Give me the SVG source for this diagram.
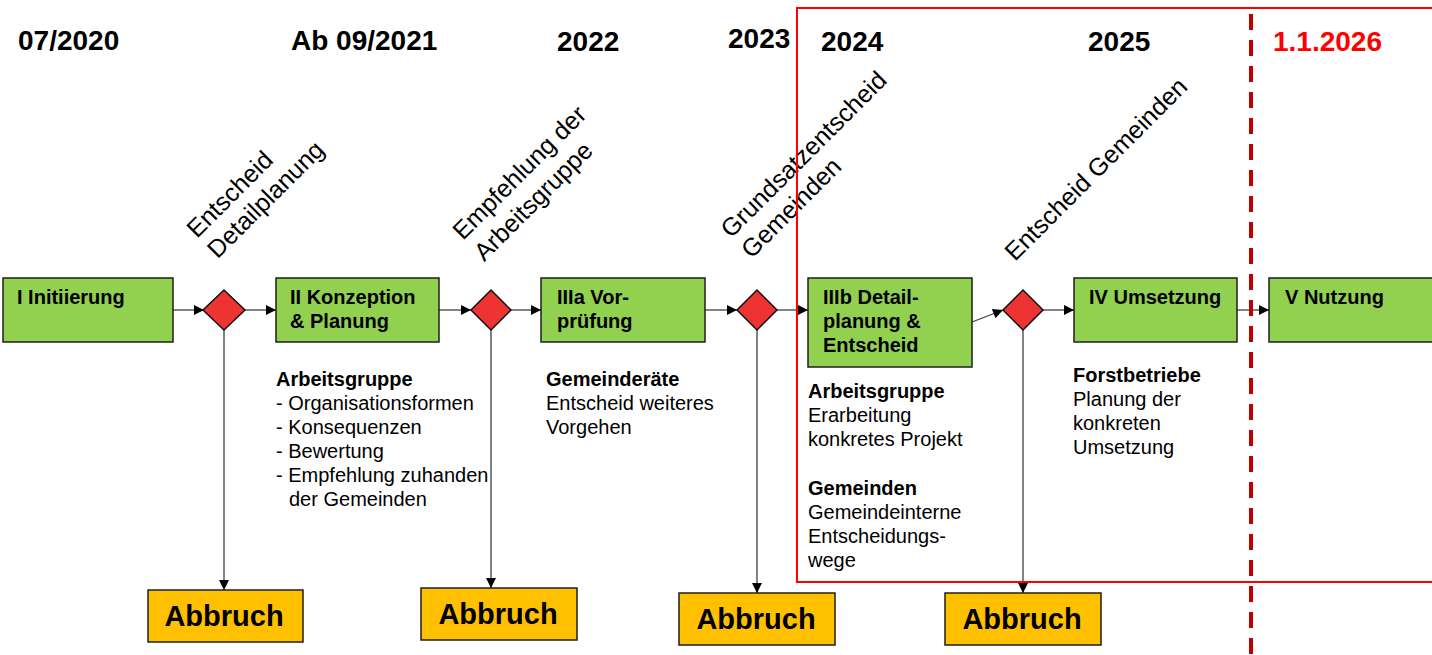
<svg xmlns="http://www.w3.org/2000/svg" width="1432" height="655" viewBox="0 0 1432 655">
<style>
.yr{font-family:"Liberation Sans",Arial,sans-serif;font-weight:bold;font-size:28px;fill:#000}
.nd{fill:#92D050;stroke:#1e1e1e;stroke-width:1.5}
.nt{font-family:"Liberation Sans",Arial,sans-serif;font-weight:bold;font-size:20px;fill:#000}
.dm{fill:#EE3333;stroke:#111;stroke-width:1.5}
.ab{fill:#FFC000;stroke:#1e1e1e;stroke-width:1.5}
.at{font-family:"Liberation Sans",Arial,sans-serif;font-weight:bold;font-size:29px;fill:#000;text-anchor:middle}
.bt{font-family:"Liberation Sans",Arial,sans-serif;font-size:20px;fill:#000}
.bb{font-weight:bold}
.rt{font-family:"Liberation Sans",Arial,sans-serif;font-size:25px;fill:#000}
.cn{stroke:#404040;stroke-width:1.3;fill:none;marker-end:url(#ah)}
</style>
<defs>
<marker id="ah" viewBox="0 0 10 10" refX="10" refY="5" markerWidth="12" markerHeight="10" markerUnits="userSpaceOnUse" orient="auto">
<path d="M0,0 L10,5 L0,10 z" fill="#000"/>
</marker>
</defs>
<rect width="1432" height="655" fill="#fff"/>

<g id="years">
<text class="yr" x="18" y="50">07/2020</text>
<text class="yr" x="291" y="50">Ab 09/2021</text>
<text class="yr" x="557" y="51">2022</text>
<text class="yr" x="728" y="48">2023</text>
<text class="yr" x="821" y="51">2024</text>
<text class="yr" x="1088" y="51">2025</text>
<text class="yr" x="1273" y="51" style="fill:#FF0000">1.1.2026</text>
</g>

<g id="decision-labels">
<g transform="translate(197,239) rotate(-45)"><text class="rt" x="0" y="0">Entscheid</text><text class="rt" x="0" y="29">Detailplanung</text></g>
<g transform="translate(463,241) rotate(-45)"><text class="rt" x="0" y="0">Empfehlung der</text><text class="rt" x="0" y="30">Arbeitsgruppe</text></g>
<g transform="translate(731,239) rotate(-45)"><text class="rt" x="0" y="0">Grundsatzentscheid</text><text class="rt" x="0" y="29">Gemeinden</text></g>
<g transform="translate(1015,262) rotate(-45)"><text class="rt" x="0" y="0">Entscheid Gemeinden</text></g>
</g>

<g id="connectors">
<line class="cn" x1="173" y1="310" x2="204" y2="310"/>
<line class="cn" x1="245" y1="310" x2="276" y2="310"/>
<line class="cn" x1="439" y1="310" x2="471" y2="310"/>
<line class="cn" x1="511" y1="310" x2="541" y2="310"/>
<line class="cn" x1="705" y1="310" x2="737" y2="310"/>
<line class="cn" x1="777" y1="310" x2="808" y2="310"/>
<line class="cn" x1="972" y1="322" x2="1003" y2="310"/>
<line class="cn" x1="1043" y1="310" x2="1074" y2="310"/>
<line class="cn" x1="1237" y1="310" x2="1269" y2="310"/>
<line class="cn" x1="224" y1="330" x2="224" y2="590"/>
<line class="cn" x1="491" y1="330" x2="491" y2="588"/>
<line class="cn" x1="757" y1="330" x2="757" y2="593"/>
<line class="cn" x1="1023" y1="330" x2="1023" y2="593"/>
</g>

<g id="n1"><rect class="nd" x="3" y="278" width="170" height="64"/><text class="nt" x="17" y="304">I Initiierung</text></g>
<g id="d1"><polygon class="dm" points="224,290 245,310 224,330 203,310"/></g>
<g id="n2"><rect class="nd" x="276" y="278" width="163" height="64"/><text class="nt" x="290" y="304">II Konzeption</text><text class="nt" x="290" y="328">&amp; Planung</text></g>
<g id="d2"><polygon class="dm" points="491,290 511,310 491,330 471,310"/></g>
<g id="n3"><rect class="nd" x="541" y="278" width="164" height="64"/><text class="nt" x="557" y="304">IIIa Vor-</text><text class="nt" x="557" y="328">prüfung</text></g>
<g id="d3"><polygon class="dm" points="757,290 777,310 757,330 737,310"/></g>
<g id="n4"><rect class="nd" x="808" y="278" width="164" height="89"/><text class="nt" x="823" y="304">IIIb  Detail-</text><text class="nt" x="823" y="328">planung &amp;</text><text class="nt" x="823" y="352">Entscheid</text></g>
<g id="d4"><polygon class="dm" points="1023,290 1043,310 1023,330 1003,310"/></g>
<g id="n5"><rect class="nd" x="1074" y="278" width="163" height="64"/><text class="nt" x="1089" y="304">IV Umsetzung</text></g>
<g id="n6"><rect class="nd" x="1269" y="278" width="170" height="64"/><text class="nt" x="1285" y="304">V Nutzung</text></g>

<g id="a1"><rect class="ab" x="148" y="590" width="155" height="52"/><text class="at" x="224" y="626">Abbruch</text></g>
<g id="a2"><rect class="ab" x="421" y="588" width="156" height="52"/><text class="at" x="498" y="624">Abbruch</text></g>
<g id="a3"><rect class="ab" x="679" y="593" width="156" height="52"/><text class="at" x="756" y="629">Abbruch</text></g>
<g id="a4"><rect class="ab" x="945" y="593" width="156" height="52"/><text class="at" x="1022" y="629">Abbruch</text></g>

<g id="t2">
<text class="bt bb" x="276" y="386">Arbeitsgruppe</text>
<text class="bt" x="276" y="410">- Organisationsformen</text>
<text class="bt" x="276" y="434">- Konsequenzen</text>
<text class="bt" x="276" y="458">- Bewertung</text>
<text class="bt" x="276" y="482">- Empfehlung zuhanden</text>
<text class="bt" x="289" y="506">der Gemeinden</text>
</g>
<g id="t3">
<text class="bt bb" x="546" y="386">Gemeinderäte</text>
<text class="bt" x="546" y="410">Entscheid weiteres</text>
<text class="bt" x="546" y="434">Vorgehen</text>
</g>
<g id="t4">
<text class="bt bb" x="808" y="398">Arbeitsgruppe</text>
<text class="bt" x="808" y="422">Erarbeitung</text>
<text class="bt" x="808" y="446">konkretes Projekt</text>
<text class="bt bb" x="808" y="495">Gemeinden</text>
<text class="bt" x="808" y="519">Gemeindeinterne</text>
<text class="bt" x="808" y="543">Entscheidungs-</text>
<text class="bt" x="808" y="567">wege</text>
</g>
<g id="t5">
<text class="bt bb" x="1073" y="382">Forstbetriebe</text>
<text class="bt" x="1073" y="406">Planung der</text>
<text class="bt" x="1073" y="430">konkreten</text>
<text class="bt" x="1073" y="454">Umsetzung</text>
</g>

<g id="frame">
<rect x="797" y="8" width="660" height="574" fill="none" stroke="#FF0000" stroke-width="2"/>
<line x1="1251" y1="14" x2="1251" y2="655" stroke="#C00000" stroke-width="4" stroke-dasharray="16 10"/>
</g>
</svg>
